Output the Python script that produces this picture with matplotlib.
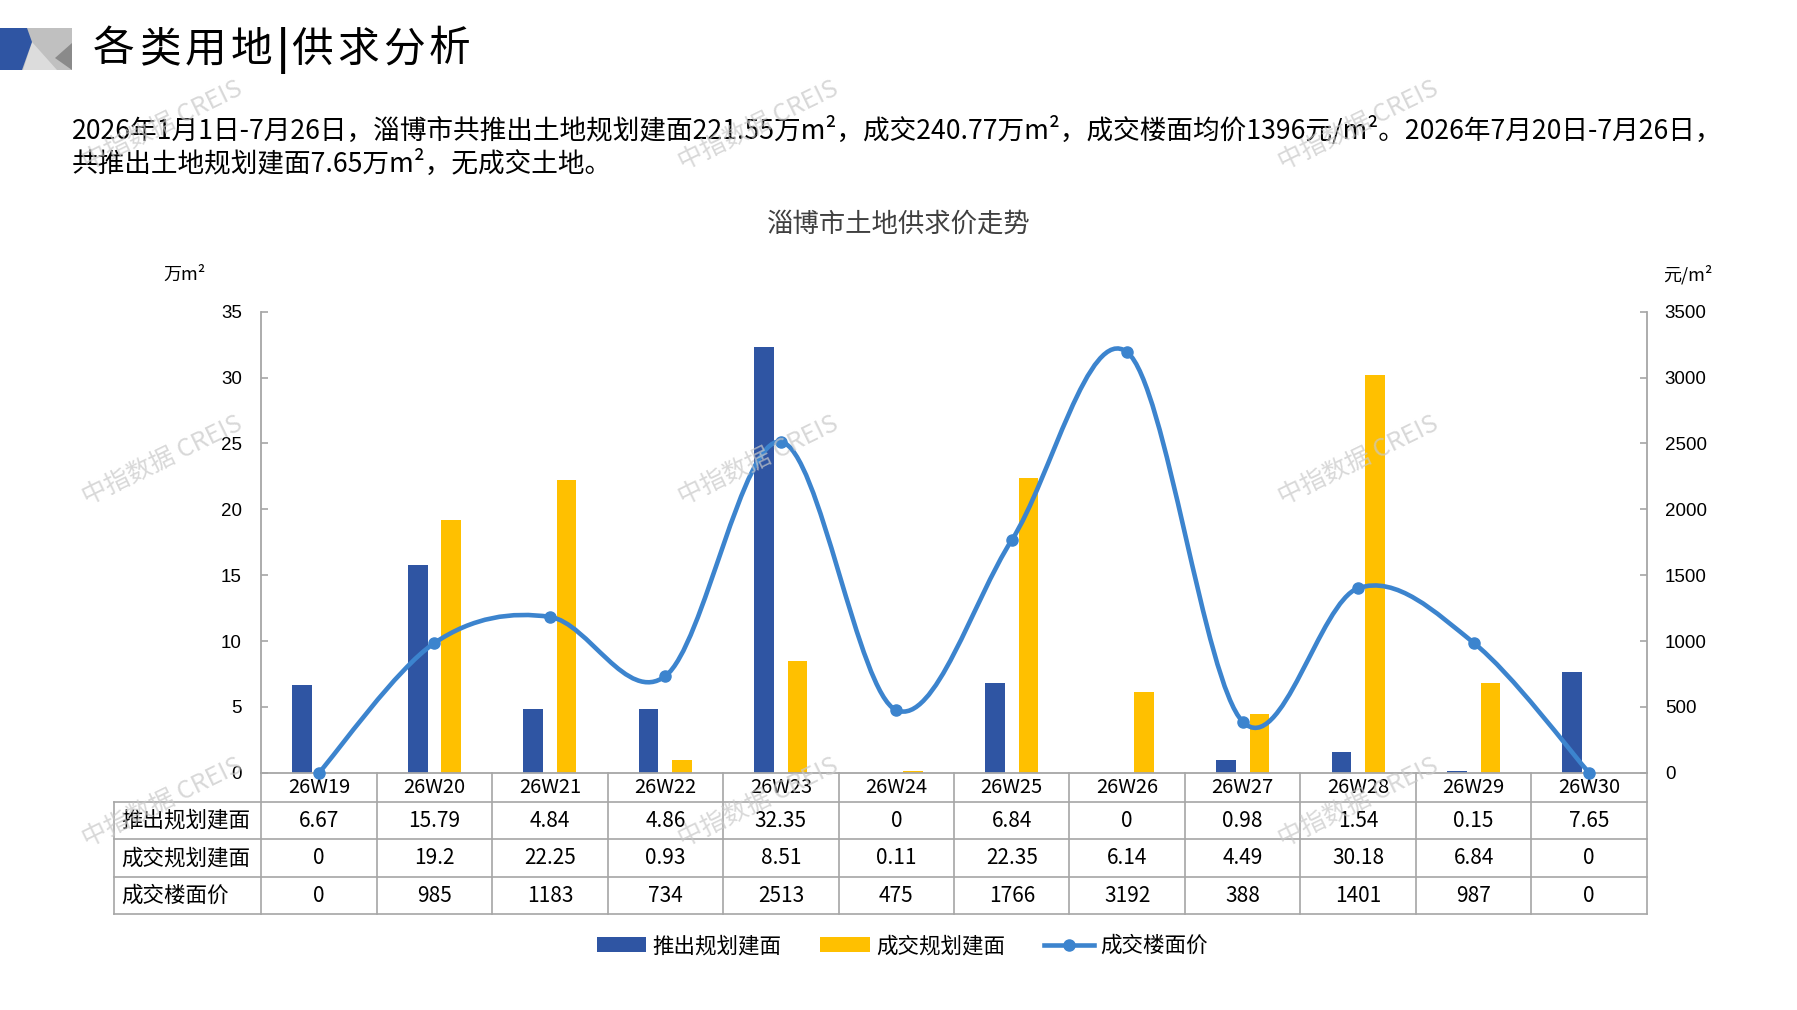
import numpy as np
import matplotlib
matplotlib.use('Agg')
import matplotlib.pyplot as plt
from matplotlib.path import Path
from matplotlib.patches import PathPatch, Polygon
from matplotlib.lines import Line2D
from matplotlib.transforms import blended_transform_factory

plt.rcParams['font.family'] = ['Noto Sans CJK SC', 'DejaVu Sans']

# data
weeks = ['26W19', '26W20', '26W21', '26W22', '26W23', '26W24',
         '26W25', '26W26', '26W27', '26W28', '26W29', '26W30']
supply = [6.67, 15.79, 4.84, 4.86, 32.35, 0, 6.84, 0, 0.98, 1.54, 0.15, 7.65]
deal = [0, 19.2, 22.25, 0.93, 8.51, 0.11, 22.35, 6.14, 4.49, 30.18, 6.84, 0]
price = [0, 985, 1183, 734, 2513, 475, 1766, 3192, 388, 1401, 987, 0]
row_names = ['推出规划建面', '成交规划建面', '成交楼面价']

title = '各类用地|供求分析'
para1 = ('2026年1月1日-7月26日，淄博市共推出土地规划建面221.55万m²，成交240.77万m²，'
         '成交楼面均价1396元/m²。2026年7月20日-7月26日，')
para2 = '共推出土地规划建面7.65万m²，无成交土地。'
chart_title = '淄博市土地供求价走势'

BLUE = '#2F55A3'
GOLD = '#FFC000'
LINE = '#3C84CE'
GRID = '#A6A6A6'

W, H = 1797, 1010


def fx(px):
    return px / W


def fy(py):
    return 1 - py / H


fig = plt.figure(figsize=(W / 100, H / 100), dpi=100)
ax = fig.add_axes([0.1454, 0.2349, 0.7710, 0.4565])

x = np.arange(len(weeks))
bw = 0.17
b1 = ax.bar(x - 0.145, supply, bw, color=BLUE, zorder=2)
b2 = ax.bar(x + 0.145, deal, bw, color=GOLD, zorder=2)
ax.set_xlim(-0.5, len(weeks) - 0.5)
ax.set_ylim(0, 35)
ax.set_yticks(np.arange(0, 36, 5))
ax.set_xticks([])
ax.tick_params(axis='y', direction='in', length=5, color=GRID, width=1.2,
               labelsize=13.5, pad=14, labelfontfamily='Liberation Sans')
for s in ['top', 'right']:
    ax.spines[s].set_visible(False)
for s in ['left', 'bottom']:
    ax.spines[s].set_color(GRID)
    ax.spines[s].set_linewidth(1.3)

ax2 = ax.twinx()
ax2.set_ylim(0, 3500)
ax2.set_yticks(np.arange(0, 3501, 500))
ax2.tick_params(axis='y', direction='in', length=5, color=GRID, width=1.2,
                labelsize=13.5, pad=13, labelfontfamily='Liberation Sans')
for s in ['top', 'left', 'bottom']:
    ax2.spines[s].set_visible(False)
ax2.spines['right'].set_color(GRID)
ax2.spines['right'].set_linewidth(1.3)

# smoothed price line (cubic bezier, catmull-rom style like office charts)
pts = np.column_stack([x, price]).astype(float)
n = len(pts)
verts = [pts[0]]
codes = [Path.MOVETO]
for i in range(n - 1):
    p0 = pts[max(i - 1, 0)]
    p1 = pts[i]
    p2 = pts[i + 1]
    p3 = pts[min(i + 2, n - 1)]
    verts += [p1 + (p2 - p0) / 6, p2 - (p3 - p1) / 6, p2]
    codes += [Path.CURVE4] * 3
ax2.add_patch(PathPatch(Path(verts, codes), facecolor='none', edgecolor=LINE,
                        lw=3.3, capstyle='round', joinstyle='round', zorder=3))
ax2.plot(x, price, 'o', color=LINE, ms=8, zorder=4, clip_on=False)

# data table under the plot
tr = blended_transform_factory(ax.transData, ax.transAxes)
row_edges = [0, -0.0629, -0.1445, -0.2262, -0.3072]
left_edge = -0.1061
lkw = dict(color=GRID, lw=1.2, clip_on=False)
for yv in row_edges[1:]:
    ax.plot([left_edge, 1], [yv, yv], transform=ax.transAxes, **lkw)
ax.plot([left_edge, left_edge], [row_edges[1], row_edges[-1]],
        transform=ax.transAxes, **lkw)
for e in np.arange(-0.5, len(weeks), 1.0):
    ax.plot([e, e], [0, row_edges[-1]], transform=tr, **lkw)

hy = (row_edges[0] + row_edges[1]) / 2
for i, w in enumerate(weeks):
    ax.text(i, hy, w, transform=tr, ha='center', va='center', fontsize=14.5)

rows = [supply, deal, price]
for r, vals in enumerate(rows):
    cy = (row_edges[r + 1] + row_edges[r + 2]) / 2
    ax.text(left_edge + 0.005, cy, row_names[r], transform=ax.transAxes,
            ha='left', va='center', fontsize=15.5)
    for i, v in enumerate(vals):
        ax.text(i, cy, f'{v:g}', transform=tr, ha='center', va='center',
                fontsize=15)

# unit labels and titles
fig.text(fx(163), fy(275), '万m²', ha='left', va='center', fontsize=13)
fig.text(fx(1663), fy(275), '元/m²', ha='left', va='center', fontsize=13)
fig.text(0.5, fy(224), chart_title, ha='center', va='center',
         fontsize=19, color='#404040')

# page title, spaced out a little like the original
tx = 93
for ch in title:
    fig.text(fx(tx), fy(50), ch, ha='left', va='center', fontsize=30,
             fontweight='bold' if ch == '|' else 'normal')
    tx += 14 if ch == '|' else 46

fig.text(fx(72), fy(131), para1, ha='left', va='center', fontsize=19.2)
fig.text(fx(72), fy(164), para2, ha='left', va='center', fontsize=19.2)

# corner logo
def poly(points, color):
    fig.patches.append(Polygon([(fx(a), fy(b)) for a, b in points], closed=True,
                               facecolor=color, edgecolor='none',
                               transform=fig.transFigure, figure=fig))

poly([(22, 28), (72, 28), (72, 70), (22, 70)], '#C0C0C0')
poly([(32, 42), (57, 70), (23, 70)], '#DCDCDC')
poly([(72, 43), (72, 70), (55, 58)], '#8A8A8A')
poly([(0, 28), (27, 28), (32, 42), (22, 70), (0, 70)], BLUE)

# legend
line_handle = Line2D([0], [0], color=LINE, lw=3.3, marker='o', ms=8)
fig.legend([b1, b2, line_handle], row_names, loc='center',
           bbox_to_anchor=(0.502, fy(946)), ncol=3, frameon=False,
           fontsize=15.5, handlelength=2.3, handleheight=0.65,
           handletextpad=0.3, columnspacing=1.8)

# watermarks
for wy in [126, 461, 803]:
    for wx in [162, 758, 1358]:
        fig.text(fx(wx), fy(wy), '中指数据 CREIS', rotation=26, ha='center',
                 va='center', fontsize=18, color='#C8C8C8', alpha=0.7,
                 zorder=10)

fig.savefig('out.png', dpi=100)
